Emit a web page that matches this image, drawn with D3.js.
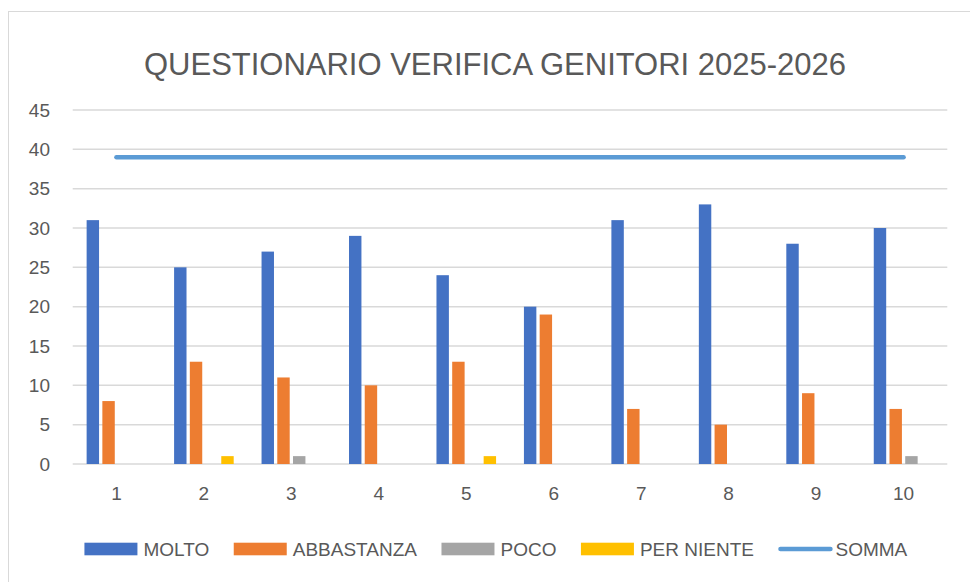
<!DOCTYPE html>
<html>
<head>
<meta charset="utf-8">
<script src="https://cdn.jsdelivr.net/npm/d3@7"></script>
<style>
  body { margin: 0; background: #fff; }
  svg { display: block; font-family: "Liberation Sans", Arial, sans-serif; }
</style>
</head>
<body>
<svg id="chart" width="970" height="582"></svg>
<script>
// data
var categories = ["1", "2", "3", "4", "5", "6", "7", "8", "9", "10"];
var seriesNames = ["MOLTO", "ABBASTANZA", "POCO", "PER NIENTE"];
var molto      = [31, 25, 27, 29, 24, 20, 31, 33, 28, 30];
var abbastanza = [8, 13, 11, 10, 13, 19, 7, 5, 9, 7];
var poco       = [0, 0, 1, 0, 0, 0, 0, 0, 0, 1];
var perNiente  = [0, 1, 0, 0, 1, 0, 0, 0, 0, 0];
var somma      = [39, 39, 39, 39, 39, 39, 39, 39, 39, 39];
var yTicks     = [0, 5, 10, 15, 20, 25, 30, 35, 40, 45];
var title = "QUESTIONARIO VERIFICA GENITORI 2025-2026";

var colors = {
  "MOLTO": "#4472C4",
  "ABBASTANZA": "#ED7D31",
  "POCO": "#A5A5A5",
  "PER NIENTE": "#FFC000",
  "SOMMA": "#5B9BD5"
};
var textColor = "#595959";

var svg = d3.select("#chart");

// chart area border
svg.append("rect")
  .attr("x", 8.5).attr("y", 11.5)
  .attr("width", 990).attr("height", 600)
  .attr("fill", "#fff")
  .attr("stroke", "#d9d9d9")
  .attr("stroke-width", 1);

var margin = {left: 72.7, right: 947.3, top: 110, bottom: 464};

var x0 = d3.scaleBand()
  .domain(categories)
  .range([margin.left, margin.right])
  .padding(0);

var bw = x0.bandwidth();
var x1 = d3.scaleBand()
  .domain(seriesNames)
  .range([bw / 2 - 29.8, bw / 2 + 29.8])
  .paddingInner(0.21);

var y = d3.scaleLinear()
  .domain([0, 45])
  .range([margin.bottom, margin.top]);

// gridlines
svg.append("g")
  .selectAll("line")
  .data(yTicks)
  .join("line")
  .attr("x1", margin.left).attr("x2", margin.right)
  .attr("y1", function(d){ return y(d); })
  .attr("y2", function(d){ return y(d); })
  .attr("stroke", "#d9d9d9")
  .attr("stroke-width", 1.5);

// y axis labels
var yAxis = d3.axisLeft(y).tickValues(yTicks).tickSize(0).tickPadding(0);
var yg = svg.append("g")
  .attr("transform", "translate(50,0)")
  .call(yAxis);
yg.select(".domain").remove();
yg.selectAll("text")
  .attr("fill", textColor)
  .attr("font-size", 19)
  .attr("font-family", "'Liberation Sans', Arial, sans-serif");

// x axis labels
var xAxis = d3.axisBottom(x0).tickSize(0).tickPadding(0);
var xg = svg.append("g")
  .attr("transform", "translate(0,486)")
  .call(xAxis);
xg.select(".domain").remove();
xg.selectAll("text")
  .attr("fill", textColor)
  .attr("font-size", 19)
  .attr("font-family", "'Liberation Sans', Arial, sans-serif");

// bars
var values = [molto, abbastanza, poco, perNiente];
var rows = categories.map(function(c, i){
  return seriesNames.map(function(s, j){
    return {cat: c, name: s, value: values[j][i]};
  });
});

svg.append("g")
  .selectAll("g")
  .data(rows)
  .join("g")
  .attr("transform", function(d){ return "translate(" + x0(d[0].cat) + ",0)"; })
  .selectAll("rect")
  .data(function(d){ return d.filter(function(e){ return e.value > 0; }); })
  .join("rect")
  .attr("x", function(d){ return x1(d.name); })
  .attr("width", x1.bandwidth())
  .attr("y", function(d){ return y(d.value); })
  .attr("height", function(d){ return y(0) - y(d.value); })
  .attr("fill", function(d){ return colors[d.name]; });

// somma line
var line = d3.line()
  .x(function(d, i){ return x0(categories[i]) + bw / 2; })
  .y(function(d){ return y(d); });

svg.append("path")
  .datum(somma)
  .attr("d", line)
  .attr("fill", "none")
  .attr("stroke", colors["SOMMA"])
  .attr("stroke-width", 4.5)
  .attr("stroke-linecap", "round");

// title
svg.append("text")
  .attr("x", 495).attr("y", 75)
  .attr("text-anchor", "middle")
  .attr("fill", textColor)
  .attr("font-size", 31)
  .attr("textLength", 702)
  .attr("lengthAdjust", "spacingAndGlyphs")
  .text(title);

// legend
var legendItems = seriesNames.concat(["SOMMA"]);
var legend = svg.append("g");
var lx = 0;
legendItems.forEach(function(name, i){
  var g = legend.append("g").attr("transform", "translate(" + lx + ",0)");
  if(name == "SOMMA"){
    g.append("line")
      .attr("x1", 2).attr("x2", 52)
      .attr("y1", 549).attr("y2", 549)
      .attr("stroke", colors[name])
      .attr("stroke-width", 4.5)
      .attr("stroke-linecap", "round");
  }else{
    g.append("rect")
      .attr("x", 0).attr("y", 542.7)
      .attr("width", 53).attr("height", 12.6)
      .attr("fill", colors[name]);
  }
  var t = g.append("text")
    .attr("x", name == "SOMMA" ? 57 : 59)
    .attr("y", 556)
    .attr("fill", textColor)
    .attr("font-size", 19)
    .text(name);
  lx += (name == "SOMMA" ? 57 : 59) + t.node().getComputedTextLength() + 24.5;
});
var lw = legend.node().getBBox().width;
legend.attr("transform", "translate(" + (496 - lw / 2) + ",0)");
</script>
</body>
</html>
